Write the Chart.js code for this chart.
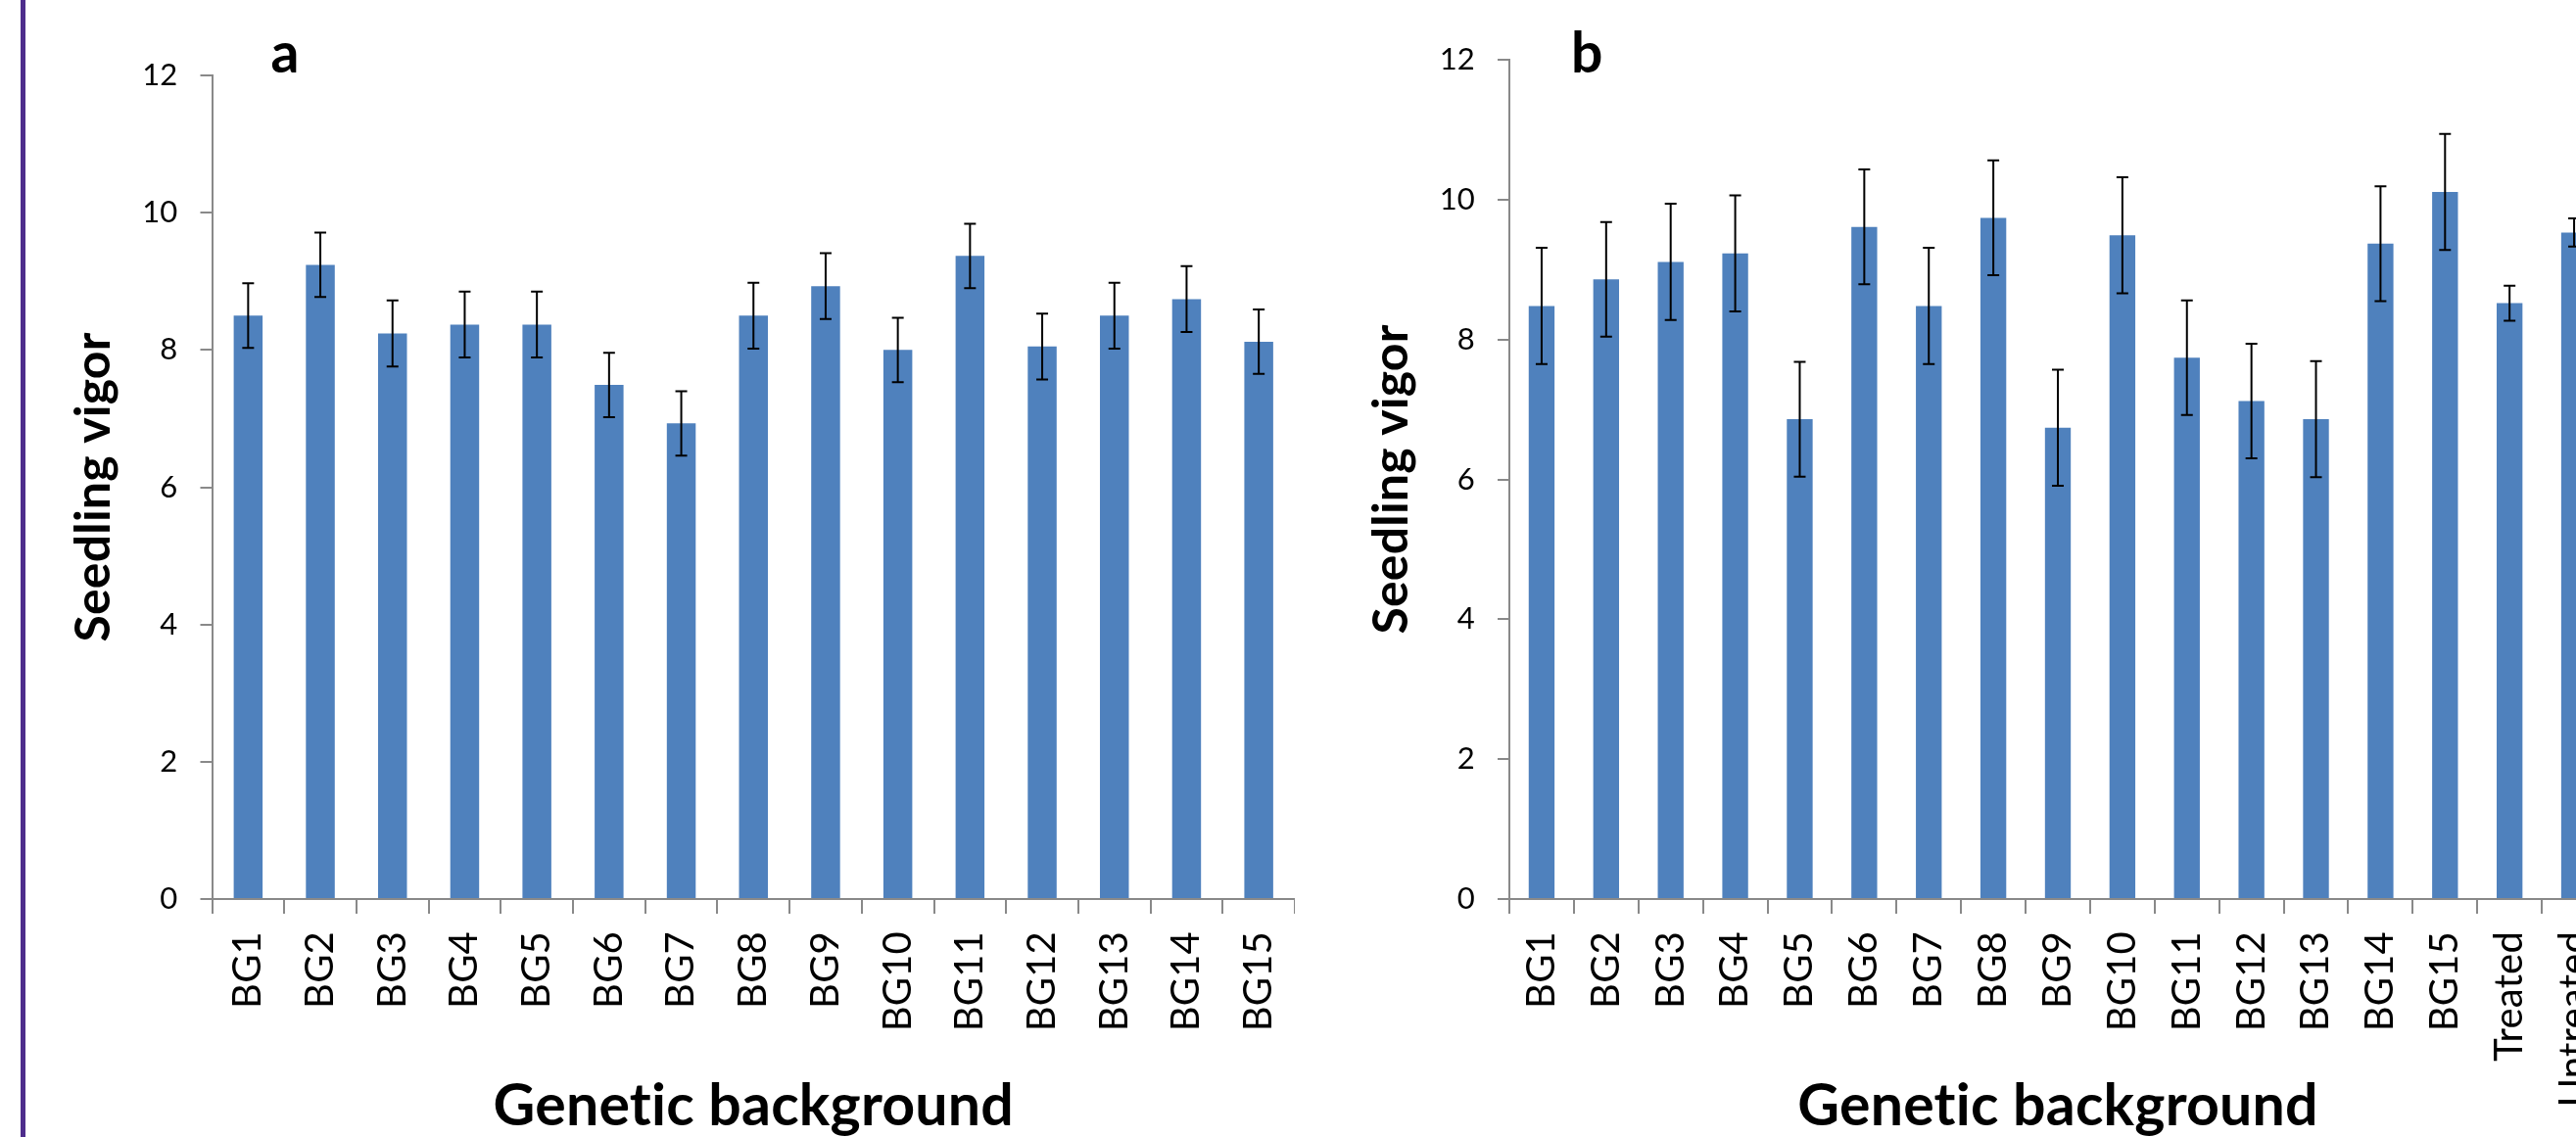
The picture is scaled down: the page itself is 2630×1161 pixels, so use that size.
<!DOCTYPE html>
<html>
<head>
<meta charset="utf-8">
<script src="https://cdn.jsdelivr.net/npm/chart.js@4.4.1/dist/chart.umd.min.js"></script>
<style>
  html, body { margin: 0; padding: 0; width: 2630px; height: 1161px; overflow: hidden; background: #fff; }
  #rule { position: absolute; left: 21px; top: 0; width: 5px; height: 1161px; background: #4E2D8C; }
  .box { position: absolute; top: 0; height: 1161px; }
  #boxA { left: 30px; width: 1292px; }
  #boxB { left: 1330px; width: 1331px; }
</style>
</head>
<body>
<div id="rule"></div>
<div class="box" id="boxA"><canvas id="chartA"></canvas></div>
<div class="box" id="boxB"><canvas id="chartB"></canvas></div>
<script>
// panel a
const labelsA = ['BG1', 'BG2', 'BG3', 'BG4', 'BG5', 'BG6', 'BG7', 'BG8', 'BG9', 'BG10', 'BG11', 'BG12', 'BG13', 'BG14', 'BG15'];
const vigorA = [8.5, 9.24, 8.24, 8.37, 8.37, 7.49, 6.93, 8.5, 8.93, 8.0, 9.37, 8.05, 8.5, 8.74, 8.12];
const errA = [0.47, 0.47, 0.48, 0.48, 0.48, 0.47, 0.47, 0.48, 0.48, 0.47, 0.47, 0.48, 0.48, 0.48, 0.47];

// panel b
const labelsB = ['BG1', 'BG2', 'BG3', 'BG4', 'BG5', 'BG6', 'BG7', 'BG8', 'BG9', 'BG10', 'BG11', 'BG12', 'BG13', 'BG14', 'BG15', 'Treated', 'Untreated'];
const vigorB = [8.48, 8.86, 9.11, 9.23, 6.86, 9.61, 8.48, 9.74, 6.74, 9.49, 7.74, 7.12, 6.86, 9.37, 10.11, 8.52, 9.53];
const errB = [0.83, 0.82, 0.83, 0.83, 0.82, 0.82, 0.83, 0.82, 0.83, 0.83, 0.82, 0.82, 0.83, 0.82, 0.83, 0.25, 0.2];

const yMin = 0, yMax = 12, yStep = 2;

const axisGrey = '#898989';
const barBlue = '#4F81BD';
const fontFam = 'Lato';

// tiny spacing so Lato does not join "ti" into a ligature
const noLigatures = {
  id: 'noLigatures',
  beforeDraw(chart) { chart.ctx.letterSpacing = '0.2px'; }
};

// black error bars with caps
const errorBars = {
  id: 'errorBars',
  afterDatasetsDraw(chart, args, opts) {
    const ctx = chart.ctx;
    const y = chart.scales.y;
    const vals = chart.data.datasets[0].data;
    ctx.save();
    ctx.strokeStyle = '#000';
    ctx.lineWidth = 2;
    chart.getDatasetMeta(0).data.forEach((bar, i) => {
      const top = y.getPixelForValue(vals[i] + opts.errors[i]);
      const bot = y.getPixelForValue(vals[i] - opts.errors[i]);
      ctx.beginPath();
      ctx.moveTo(bar.x, top); ctx.lineTo(bar.x, bot);
      ctx.moveTo(bar.x - 6, top); ctx.lineTo(bar.x + 6, top);
      ctx.moveTo(bar.x - 6, bot); ctx.lineTo(bar.x + 6, bot);
      ctx.stroke();
    });
    ctx.restore();
  }
};

// the bold "a" / "b" panel letter
const panelLetter = {
  id: 'panelLetter',
  afterDraw(chart, args, opts) {
    const ctx = chart.ctx;
    ctx.save();
    ctx.font = 'bold 57px ' + fontFam;
    ctx.fillStyle = '#000';
    ctx.textBaseline = 'alphabetic';
    ctx.fillText(opts.text, chart.chartArea.left + opts.dx, opts.y);
    ctx.restore();
  }
};

function makeChart(id, labels, values, errors, letter, lay) {
  return new Chart(id, {
    type: 'bar',
    data: {
      labels: labels,
      datasets: [{
        data: values,
        backgroundColor: barBlue,
        categoryPercentage: 1,
        barPercentage: 0.4
      }]
    },
    options: {
      responsive: true,
      maintainAspectRatio: false,
      animation: false,
      layout: { padding: { top: lay.top, left: 0, right: 0, bottom: 0 } },
      plugins: {
        legend: { display: false },
        tooltip: { enabled: false },
        errorBars: { errors: errors },
        panelLetter: { text: letter, dx: lay.letterDx, y: 74 }
      },
      scales: {
        x: {
          border: { color: axisGrey, width: 2 },
          grid: { drawOnChartArea: false, tickLength: 15, color: axisGrey, lineWidth: 2 },
          ticks: {
            autoSkip: false, maxRotation: 90, minRotation: 90,
            color: '#000', padding: 18,
            font: { family: fontFam, size: 40 }
          },
          title: {
            display: true, text: 'Genetic background', color: '#000',
            font: { family: fontFam, size: 59, weight: 'bold', lineHeight: 1 },
            padding: { top: 0, bottom: 2 }
          },
          afterFit(s) { s.height = 243; s.paddingLeft = 0; s.paddingRight = 0; }
        },
        y: {
          min: yMin, max: yMax,
          border: { color: axisGrey, width: 2 },
          grid: { drawOnChartArea: false, tickLength: 12, color: axisGrey, lineWidth: 2 },
          ticks: {
            stepSize: yStep, color: '#000', padding: 23,
            font: { family: fontFam, size: 31 }
          },
          title: {
            display: true, text: 'Seedling vigor', color: '#000',
            font: { family: fontFam, size: 50, weight: 'bold', lineHeight: 1 },
            padding: { top: lay.titlePad, bottom: 0 }
          },
          afterFit(s) { s.width = lay.yWidth; s.paddingTop = 0; s.paddingBottom = 0; }
        }
      }
    },
    plugins: [noLigatures, errorBars, panelLetter]
  });
}

makeChart('chartA', labelsA, vigorA, errA, 'a', { top: 77, yWidth: 186.5, titlePad: 41, letterDx: 60 });
makeChart('chartB', labelsB, vigorB, errB, 'b', { top: 61, yWidth: 211, titlePad: 66, letterDx: 63 });
</script>
</body>
</html>
